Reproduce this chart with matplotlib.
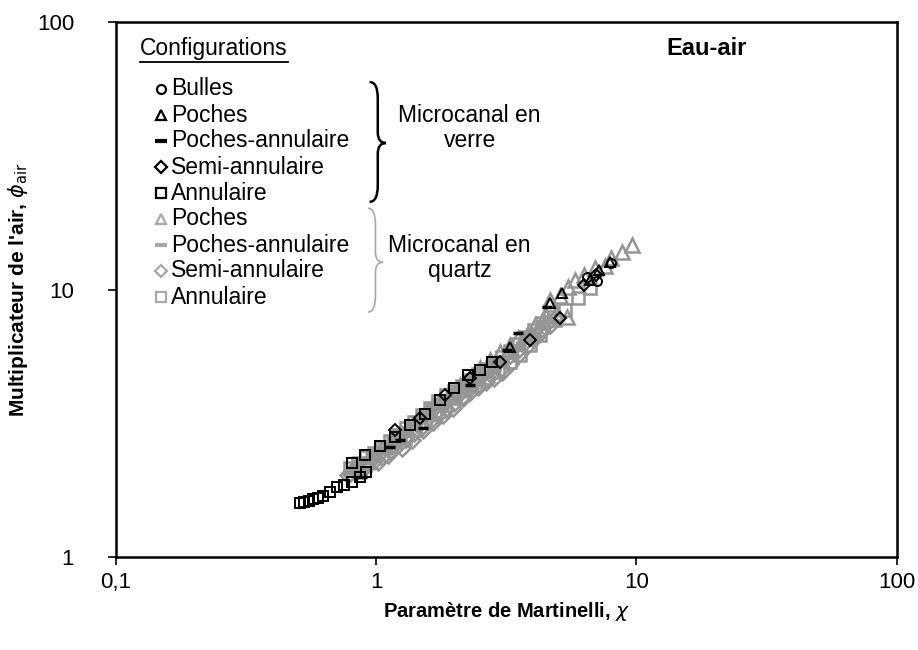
import matplotlib
matplotlib.use("Agg")
import matplotlib.pyplot as plt
from matplotlib.path import Path
from matplotlib.patches import PathPatch
from matplotlib.ticker import FixedLocator, FixedFormatter, NullLocator

plt.rcParams['font.family'] = ['Liberation Sans', 'DejaVu Sans']

# --- data (chi, phi_air) ---
# microcanal en verre (black)
bulles_x = [6.43, 7.07, 8.0]
bulles_y = [11.1, 10.8, 12.6]
poches_x = [3.26, 4.64, 5.16, 6.61, 7.21, 7.88]
poches_y = [6.1, 8.9, 9.7, 10.9, 11.8, 12.7]
pa_x = [0.88, 1.13, 1.24, 1.51, 2.29, 3.18, 3.50, 4.52]
pa_y = [1.99, 2.58, 2.74, 3.04, 4.40, 5.94, 6.88, 8.6]
semi_x = [1.18, 1.475, 1.84, 2.29, 2.99, 3.89, 5.07, 6.3, 7.0]
semi_y = [2.98, 3.30, 4.03, 4.67, 5.35, 6.47, 7.8, 10.4, 11.3]
ann_x = [0.511, 0.53, 0.555, 0.574, 0.60, 0.627, 0.667, 0.71, 0.754, 0.81, 0.868, 0.915,
         0.81, 0.908, 1.036, 1.18, 1.35, 1.54, 1.76, 2.0, 2.25, 2.5, 2.78]
ann_y = [1.59, 1.61, 1.62, 1.65, 1.66, 1.69, 1.75, 1.83, 1.86, 1.91, 1.99, 2.08,
         2.25, 2.41, 2.60, 2.81, 3.11, 3.43, 3.86, 4.29, 4.79, 5.0, 5.35]

# microcanal en quartz (grey)
qpoches_x = [9.6, 8.8, 8.0, 7.55, 6.9, 6.3, 5.8, 5.45, 5.07, 4.64, 4.44, 4.07, 3.8, 3.5,
             3.26, 2.99, 2.73, 2.5, 2.29, 2.1, 1.92, 1.76, 1.61, 5.4, 4.9, 3.95]
qpoches_y = [14.7, 13.8, 13.1, 12.3, 12.0, 11.3, 10.9, 10.2, 9.5, 9.14, 8.0, 7.4, 6.75, 6.6,
             6.2, 5.85, 5.45, 5.1, 4.67, 4.4, 4.03, 3.86, 3.54, 7.9, 8.2, 6.9]
qpa_x = [0.795, 0.853, 0.908, 0.966, 1.04, 1.09, 1.16, 1.24, 1.29, 1.37, 1.45, 1.54,
         1.64, 1.73, 1.84, 1.95, 2.06, 2.19, 2.33, 2.50, 2.69, 2.86, 3.12, 3.32,
         0.795, 0.853, 0.916, 0.982, 1.054, 1.131, 1.214, 1.303, 1.398, 1.500, 1.610,
         1.728, 1.854, 1.990, 2.136, 2.292, 2.460, 2.640, 2.833, 3.040, 3.262, 3.501,
         3.757, 4.032, 4.327, 4.643]
qpa_y = [2.08, 2.21, 2.30, 2.47, 2.56, 2.69, 2.79, 2.93, 3.04, 3.11, 3.31, 3.48,
         3.70, 3.86, 3.93, 4.21, 4.28, 4.51, 4.67, 4.92, 5.22, 5.45, 5.59, 5.94,
         2.103, 2.187, 2.274, 2.366, 2.471, 2.605, 2.749, 2.896, 3.048, 3.216, 3.410,
         3.615, 3.799, 3.979, 4.167, 4.358, 4.558, 4.766, 4.984, 5.239, 5.593, 5.972,
         6.366, 6.785, 7.220, 7.641]
qsemi_x = [0.78, 0.83, 0.88, 0.93, 0.97, 1.02, 1.06, 1.11, 1.15, 1.21, 1.26, 1.31, 1.37,
           1.45, 1.51, 1.58, 1.65, 1.73, 1.81, 1.89, 1.97, 2.06, 2.15, 2.29, 2.42, 2.55,
           2.69, 2.86, 3.04, 3.26, 3.50, 3.72, 3.96, 4.25, 4.56,
           0.795, 0.853, 0.916, 0.982, 1.054, 1.131, 1.214, 1.303, 1.398, 1.500, 1.610,
           1.728, 1.854, 1.990, 2.136, 2.292, 2.460, 2.640, 2.833, 3.040, 3.262, 3.501,
           3.757, 4.032, 4.327, 4.643]
qsemi_y = [2.03, 2.15, 2.11, 2.27, 2.34, 2.27, 2.51, 2.41, 2.62, 2.74, 2.56, 2.86, 2.74,
           3.11, 2.98, 3.31, 3.20, 3.54, 3.40, 3.86, 3.61, 4.03, 3.93, 4.28, 4.59, 4.79,
           4.67, 5.22, 5.09, 5.69, 5.94, 6.36, 6.59, 7.06, 7.56,
           2.061, 2.118, 2.194, 2.279, 2.376, 2.500, 2.634, 2.766, 2.902, 3.051, 3.224,
           3.406, 3.590, 3.781, 3.971, 4.139, 4.314, 4.496, 4.685, 4.920, 5.289, 5.686,
           6.095, 6.531, 6.979, 7.399]
qann_x = [0.908, 0.99, 1.08, 1.18, 1.29, 1.41, 1.54, 1.68, 1.84, 2.01, 2.19, 2.39, 2.62,
          2.93, 3.26, 3.56, 3.89, 4.25, 4.85, 5.30, 5.94, 6.61,
          0.795, 0.853, 0.916, 0.982, 1.054, 1.131, 1.214, 1.303, 1.398, 1.500, 1.610,
          1.728, 1.854, 1.990, 2.136, 2.292, 2.460, 2.640, 2.833, 3.040, 3.262, 3.501,
          3.757, 4.032, 4.327, 4.643]
qann_y = [2.21, 2.41, 2.56, 2.69, 2.79, 2.98, 3.20, 3.48, 3.70, 3.93, 4.21, 4.40, 4.67,
          4.92, 5.36, 5.69, 6.20, 6.76, 7.69, 8.38, 9.30, 10.1,
          2.146, 2.256, 2.357, 2.457, 2.570, 2.715, 2.869, 3.031, 3.202, 3.389, 3.606,
          3.837, 4.019, 4.188, 4.373, 4.588, 4.815, 5.053, 5.303, 5.579, 5.915, 6.272,
          6.649, 7.050, 7.469, 7.891]

xticks = [0.1, 1, 10, 100]
xlabels = ['0,1', '1', '10', '100']
yticks = [1, 10, 100]
ylabels = ['1', '10', '100']

grey = '#959595'
lgrey = '#a8a8a8'
fs = 16.5

fig = plt.figure(figsize=(9.18, 6.5), dpi=100)
ax = fig.add_axes([0.126, 0.143, 0.851, 0.823])

# grey (quartz) first, black on top
ax.plot(qsemi_x, qsemi_y, 'D', ms=8, mfc='none', mec=grey, mew=1.8, ls='none')
ax.plot(qann_x, qann_y, 's', ms=8, mfc='none', mec=grey, mew=1.8, ls='none')
ax.plot(qpa_x, qpa_y, '_', ms=10, mec=grey, mew=3.5, ls='none')
ax.plot(qpoches_x, qpoches_y, '^', ms=10, mfc='none', mec=grey, mew=1.8, ls='none')

ax.plot(ann_x, ann_y, 's', ms=7.5, mfc='none', mec='k', mew=1.4, ls='none')
ax.plot(semi_x, semi_y, 'D', ms=6, mfc='none', mec='k', mew=1.4, ls='none')
ax.plot(pa_x, pa_y, '_', ms=7, mec='k', mew=2.5, ls='none')
ax.plot(poches_x, poches_y, '^', ms=7, mfc='none', mec='k', mew=1.4, ls='none')
ax.plot(bulles_x, bulles_y, 'o', ms=6.5, mfc='none', mec='k', mew=1.4, ls='none')

ax.set_xscale('log')
ax.set_yscale('log')
ax.set_xlim(0.1, 100)
ax.set_ylim(1, 100)
ax.xaxis.set_major_locator(FixedLocator(xticks))
ax.xaxis.set_major_formatter(FixedFormatter(xlabels))
ax.yaxis.set_major_locator(FixedLocator(yticks))
ax.yaxis.set_major_formatter(FixedFormatter(ylabels))
ax.xaxis.set_minor_locator(NullLocator())
ax.yaxis.set_minor_locator(NullLocator())
ax.tick_params(axis='both', direction='out', length=6, width=1.2, labelsize=16)
ax.tick_params(axis='x', pad=5)
ax.tick_params(axis='y', pad=24)
for s in ax.spines.values():
    s.set_linewidth(1.8)

ax.set_xlabel(r"Paramètre de Martinelli, $\chi$", fontsize=14.5, fontweight='bold', labelpad=5)
ax.set_ylabel(r"Multiplicateur de l'air, $\phi_{\mathrm{air}}$", fontsize=15, fontweight='bold', labelpad=5)

# --- hand-made legend ---
ax.text(0.705, 0.951, 'Eau-air', transform=ax.transAxes, fontsize=17, fontweight='bold', va='center')
cfg = ax.text(0.031, 0.951, 'Configurations', transform=ax.transAxes, fontsize=fs, va='center')

rows = [('o', 'k', 'Bulles'), ('^', 'k', 'Poches'), ('_', 'k', 'Poches-annulaire'),
        ('D', 'k', 'Semi-annulaire'), ('s', 'k', 'Annulaire'),
        ('^', lgrey, 'Poches'), ('_', lgrey, 'Poches-annulaire'),
        ('D', lgrey, 'Semi-annulaire'), ('s', lgrey, 'Annulaire')]
row_y = [0.875, 0.826, 0.778, 0.729, 0.680, 0.632, 0.583, 0.535, 0.486]
for (m, c, lab), yy in zip(rows, row_y):
    if m == '_':
        ax.plot(0.058, yy, m, ms=9, mec=c, mew=3, transform=ax.transAxes, clip_on=False)
    else:
        ax.plot(0.058, yy, m, ms=6.5, mfc='none', mec=c, mew=1.6, transform=ax.transAxes, clip_on=False)
    ax.text(0.071, yy, lab, transform=ax.transAxes, fontsize=fs, va='center')


def brace(x0, ytop, ybot, ymid, w, color, lw):
    verts = [(x0, ytop), (x0 + w, ytop), (x0 + w, ytop - 0.03),
             (x0 + w, ymid + 0.02), (x0 + w, ymid), (x0 + 2 * w, ymid),
             (x0 + w, ymid), (x0 + w, ymid - 0.02),
             (x0 + w, ybot + 0.03), (x0 + w, ybot), (x0, ybot)]
    codes = [Path.MOVETO, Path.CURVE3, Path.CURVE3,
             Path.LINETO, Path.CURVE3, Path.CURVE3,
             Path.CURVE3, Path.CURVE3,
             Path.LINETO, Path.CURVE3, Path.CURVE3]
    ax.add_patch(PathPatch(Path(verts, codes), fc='none', ec=color, lw=lw,
                           transform=ax.transAxes, clip_on=False))


brace(0.325, 0.888, 0.664, 0.774, 0.0105, 'k', 1.8)
brace(0.323, 0.652, 0.458, 0.551, 0.0095, lgrey, 1.2)
ax.text(0.453, 0.826, 'Microcanal en', transform=ax.transAxes, fontsize=fs, ha='center', va='center')
ax.text(0.453, 0.778, 'verre', transform=ax.transAxes, fontsize=fs, ha='center', va='center')
ax.text(0.440, 0.583, 'Microcanal en', transform=ax.transAxes, fontsize=fs, ha='center', va='center')
ax.text(0.440, 0.535, 'quartz', transform=ax.transAxes, fontsize=fs, ha='center', va='center')

# underline "Configurations"
fig.canvas.draw()
bb = cfg.get_window_extent().transformed(ax.transAxes.inverted())
ax.plot([bb.x0, bb.x1], [bb.y0 - 0.004, bb.y0 - 0.004], color='k', lw=1.3,
        transform=ax.transAxes, clip_on=False)

fig.savefig('out.png', dpi=100)
